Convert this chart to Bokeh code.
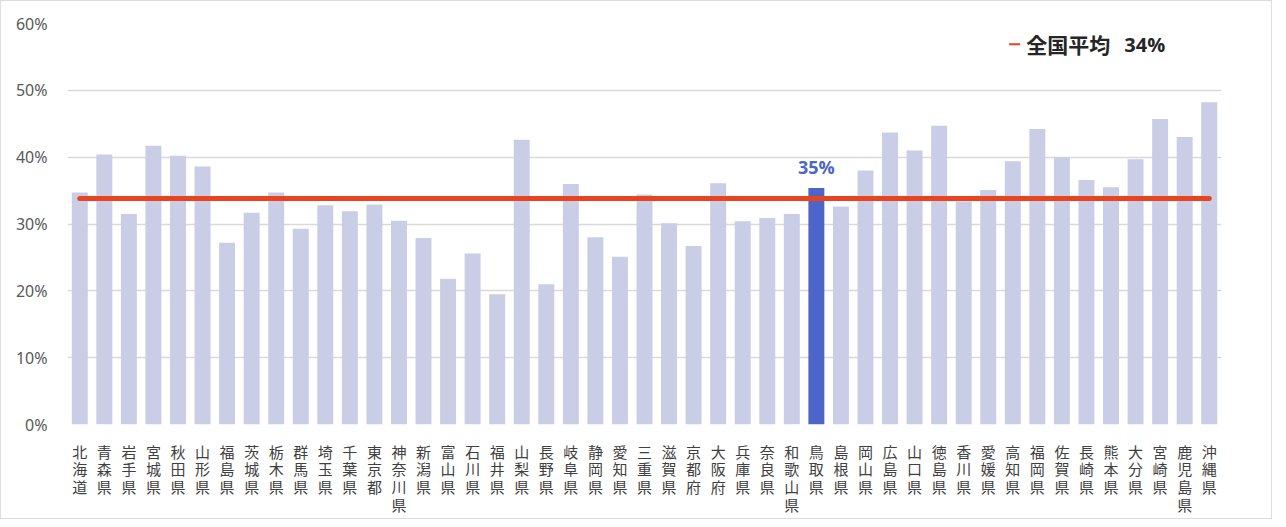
from bokeh.plotting import figure
from bokeh.models import Range1d, FixedTicker, PrintfTickFormatter
from bokeh.core.properties import value
from bokeh.embed import file_html
from bokeh.resources import INLINE

prefectures = ["北海道", "青森県", "岩手県", "宮城県", "秋田県", "山形県", "福島県", "茨城県",
               "栃木県", "群馬県", "埼玉県", "千葉県", "東京都", "神奈川県", "新潟県", "富山県",
               "石川県", "福井県", "山梨県", "長野県", "岐阜県", "静岡県", "愛知県", "三重県",
               "滋賀県", "京都府", "大阪府", "兵庫県", "奈良県", "和歌山県", "鳥取県", "島根県",
               "岡山県", "広島県", "山口県", "徳島県", "香川県", "愛媛県", "高知県", "福岡県",
               "佐賀県", "長崎県", "熊本県", "大分県", "宮崎県", "鹿児島県", "沖縄県"]
rates = [34.7, 40.4, 31.5, 41.7, 40.2, 38.6, 27.2, 31.7, 34.7, 29.3, 32.8, 31.9,
         32.9, 30.5, 27.9, 21.8, 25.6, 19.5, 42.6, 21.0, 36.0, 28.0, 25.1, 34.4,
         30.1, 26.7, 36.1, 30.4, 30.9, 31.5, 35.4, 32.6, 38.0, 43.7, 41.0, 44.7,
         33.4, 35.1, 39.4, 44.2, 40.0, 36.6, 35.5, 39.7, 45.7, 43.0, 48.2]
highlight = "鳥取県"
highlight_label = "35%"
national_avg = 33.8
national_name = "全国平均"
national_value = "34%"
y_ticks = [0, 10, 20, 30, 40, 50, 60]

BAR = "#c9cde6"
HIGH = "#4d65c8"
RED = "#e9431f"

xs = list(range(len(prefectures)))
colors = [HIGH if p == highlight else BAR for p in prefectures]

p = figure(frame_width=1154, frame_height=401, output_backend="svg", toolbar_location=None,
           x_range=Range1d(-0.5, len(prefectures) - 0.5), y_range=Range1d(0, 60),
           min_border_left=66, min_border_right=50, min_border_top=22, min_border_bottom=86)
p.styles = {"border": "1px solid #dcdcdc"}
p.outline_line_color = None
p.background_fill_color = "white"
p.border_fill_color = "white"

p.vbar(x=xs, top=rates, width=0.65, fill_color=colors, line_color=None)

# national average line
p.line(x=[xs[0], xs[-1]], y=[national_avg, national_avg], line_color=RED, line_width=5,
       line_cap="round")

# highlight label
hi = prefectures.index(highlight)
p.text(x=[hi], y=[rates[hi]], text=[highlight_label], text_align="center", text_baseline="bottom",
       y_offset=-9, text_color=HIGH, text_font=value("Open Sans"), text_font_size="18px",
       text_font_style="bold")

# legend
p.segment(x0=[37.85], y0=[56.9], x1=[38.3], y1=[56.9], line_color=RED, line_width=2)
p.text(x=[38.55], y=[56.9], text=[national_name], text_align="left", text_baseline="middle",
       text_color="#262626", text_font=value("Noto Sans CJK JP"), text_font_size="21px",
       text_font_style="bold")
p.text(x=[38.55], y=[56.9], text=[national_value], text_align="left", text_baseline="middle",
       x_offset=98, text_color="#262626", text_font=value("Open Sans"), text_font_size="20px",
       text_font_style="bold")

# axes
p.yaxis.ticker = FixedTicker(ticks=y_ticks)
p.yaxis.formatter = PrintfTickFormatter(format="%d%%")
p.yaxis.axis_line_color = None
p.yaxis.major_tick_line_color = None
p.yaxis.minor_tick_line_color = None
p.yaxis.major_label_standoff = 14
p.yaxis.major_label_text_font = "Noto Sans"
p.yaxis.major_label_text_font_size = "16px"
p.yaxis.major_label_text_color = "#595959"

p.xaxis.ticker = FixedTicker(ticks=xs)
p.xaxis.major_label_overrides = {i: "\n".join(list(n)) for i, n in enumerate(prefectures)}
p.xaxis.axis_line_color = None
p.xaxis.major_tick_line_color = None
p.xaxis.minor_tick_line_color = None
p.xaxis.major_label_standoff = 10
p.xaxis.major_label_text_font = "Noto Sans CJK JP"
p.xaxis.major_label_text_font_size = "15px"
p.xaxis.major_label_text_line_height = 0.85
p.xaxis.major_label_text_color = "#404040"

p.xgrid.grid_line_color = None
p.ygrid.ticker = FixedTicker(ticks=y_ticks)
p.ygrid.grid_line_color = "#d9d9d9"
p.ygrid.grid_line_width = 1.5

open("out.html", "w").write(file_html(p, INLINE))
